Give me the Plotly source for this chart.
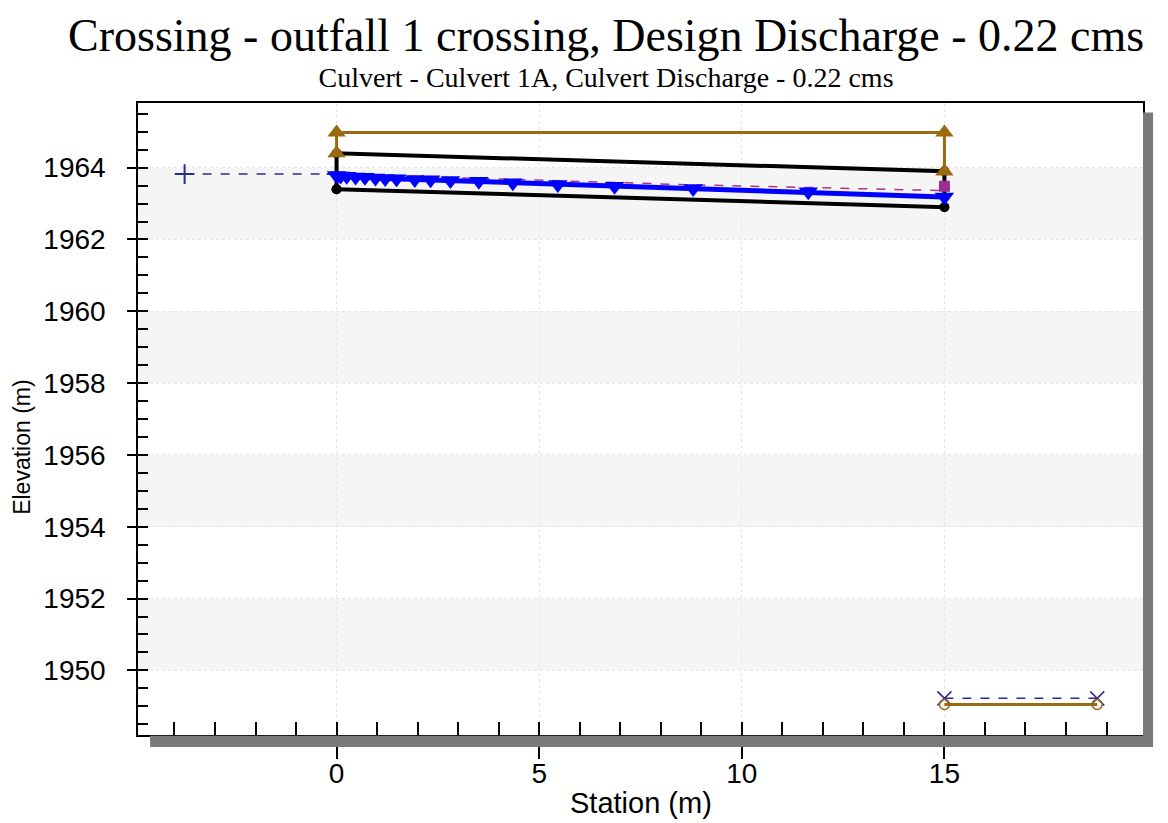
import plotly.graph_objects as go

# --- data ---
road_station = [0, 0, 15, 15]
road_elev = [1964.40, 1964.98, 1964.98, 1963.89]

culvert_station = [0, 0, 15, 15, 0]
culvert_elev = [1963.40, 1964.40, 1963.90, 1962.90, 1963.40]

ws_station = [0, 0.1, 0.25, 0.47, 0.7, 0.96, 1.2, 1.48, 1.93, 2.32, 2.81,
              3.51, 4.35, 5.46, 6.86, 8.8, 11.64, 15.0]
ws_elev = [1963.78, 1963.77, 1963.76, 1963.74, 1963.73, 1963.71, 1963.70,
           1963.69, 1963.67, 1963.66, 1963.64, 1963.62, 1963.58, 1963.53,
           1963.48, 1963.42, 1963.33, 1963.18]

egl_station = [0, 3.5, 8.8, 15]
egl_elev = [1963.82, 1963.70, 1963.52, 1963.36]

outlet_station = [15]
outlet_elev = [1963.48]

hw_station = [-3.75, 0]
hw_elev = [1963.82, 1963.82]

tw_station = [15, 18.77]
tw_elev = [1949.22, 1949.22]

channel_station = [15, 18.77]
channel_elev = [1949.05, 1949.05]

band_ranges = [(1962, 1964), (1958, 1960), (1954, 1956), (1950, 1952)]
y_ticks = [1950, 1952, 1954, 1956, 1958, 1960, 1962, 1964]
x_ticks = [0, 5, 10, 15]

title_text = "Crossing - outfall 1 crossing, Design Discharge - 0.22 cms"
subtitle_text = "Culvert - Culvert 1A, Culvert Discharge - 0.22 cms"

BROWN = "#9b6a10"
NAVY = "#2b2b90"
SERIF = "Liberation Serif, Times New Roman, serif"

fig = go.Figure()

# headwater
fig.add_trace(go.Scatter(
    x=hw_station, y=hw_elev, mode="lines+markers",
    line=dict(color=NAVY, width=1.5, dash="dash"),
    marker=dict(symbol="cross-thin", size=14, line=dict(color=NAVY, width=2)),
))
# tailwater
fig.add_trace(go.Scatter(
    x=tw_station, y=tw_elev, mode="lines+markers",
    line=dict(color=NAVY, width=1.5, dash="dash"),
    marker=dict(symbol="x-thin", size=14, line=dict(color=NAVY, width=1.5)),
))
# outlet channel
fig.add_trace(go.Scatter(
    x=channel_station, y=channel_elev, mode="lines+markers",
    line=dict(color=BROWN, width=3),
    marker=dict(symbol="circle-open", size=10, color=BROWN, line=dict(width=1.5)),
))
# culvert barrel
fig.add_trace(go.Scatter(
    x=culvert_station, y=culvert_elev, mode="lines+markers",
    line=dict(color="black", width=4),
    marker=dict(symbol="circle", size=10, color="black"),
))
# energy grade line
fig.add_trace(go.Scatter(
    x=egl_station, y=egl_elev, mode="lines",
    line=dict(color="#b0308a", width=1.5, dash="dash"),
))
# water surface
fig.add_trace(go.Scatter(
    x=ws_station, y=ws_elev, mode="lines+markers",
    line=dict(color="#0000ff", width=5),
    marker=dict(symbol="triangle-down", size=17, color="#0000ff"),
))
# outlet control depth
fig.add_trace(go.Scatter(
    x=outlet_station, y=outlet_elev, mode="markers",
    marker=dict(symbol="square", size=11, color="#9a2f8f"),
))
# roadway
fig.add_trace(go.Scatter(
    x=road_station, y=road_elev, mode="lines+markers",
    line=dict(color=BROWN, width=3),
    marker=dict(symbol="triangle-up", size=16, color=BROWN),
))

shapes = []
for lo, hi in band_ranges:
    shapes.append(dict(type="rect", xref="paper", yref="y", x0=0, x1=1,
                       y0=lo, y1=hi, fillcolor="#f5f5f5", line_width=0,
                       layer="below"))
# drop shadow of the plot frame
shapes.append(dict(type="rect", xref="paper", yref="paper", x0=1.0, x1=1.010,
                   y0=-0.019, y1=0.985, fillcolor="#7a7a7a", line_width=0,
                   layer="above"))
shapes.append(dict(type="rect", xref="paper", yref="paper", x0=0.012, x1=1.010,
                   y0=-0.019, y1=-0.001, fillcolor="#7a7a7a", line_width=0,
                   layer="above"))

# page body adds an 8px offset, so the figure is sized a little smaller
fig.update_layout(
    width=1160, height=815,
    margin=dict(l=130, r=25, t=95, b=88),
    paper_bgcolor="white", plot_bgcolor="white",
    showlegend=False,
    shapes=shapes,
    font=dict(family="Liberation Sans, Arial, sans-serif", color="black"),
    annotations=[
        dict(text=f"<span style='font-size:46px'>{title_text}</span><br>{subtitle_text}",
             xref="paper", yref="paper", x=0.466, y=1.0, yshift=94,
             xanchor="center", yanchor="top", showarrow=False, borderpad=0,
             font=dict(family=SERIF, size=28)),
        dict(text="Station (m)", xref="paper", yref="paper", x=0.5, y=-0.108,
             xanchor="center", yanchor="middle", showarrow=False,
             font=dict(size=29)),
        dict(text="Elevation (m)", xref="paper", yref="paper", x=-0.115, y=0.455,
             xanchor="center", yanchor="middle", showarrow=False,
             textangle=-90, font=dict(size=23)),
    ],
    xaxis=dict(
        range=[-4.9, 19.9], tickvals=x_ticks, ticks="outside", ticklen=22,
        tickwidth=1.5, tickcolor="black", showline=True, linecolor="black",
        linewidth=1.5, mirror=True, zeroline=False, automargin=False,
        showgrid=True, gridcolor="#e6e6e6", griddash="dot", gridwidth=1,
        tickfont=dict(size=28), ticklabelstandoff=-9,
        minor=dict(dtick=1, ticks="inside", ticklen=13, tickcolor="black",
                   tickwidth=1.5, showgrid=False),
    ),
    yaxis=dict(
        range=[1948.2, 1965.8], tickvals=y_ticks, ticks="outside", ticklen=9,
        tickwidth=1.5, tickcolor="black", showline=True, linecolor="black",
        linewidth=1.5, mirror=True, zeroline=False, automargin=False,
        showgrid=True, gridcolor="#e6e6e6", griddash="dot", gridwidth=1,
        tickfont=dict(size=28), ticklabelstandoff=16,
        minor=dict(dtick=0.5, ticks="inside", ticklen=10, tickcolor="black",
                   tickwidth=1.5, showgrid=False),
    ),
)

fig.write_html("out.html")
